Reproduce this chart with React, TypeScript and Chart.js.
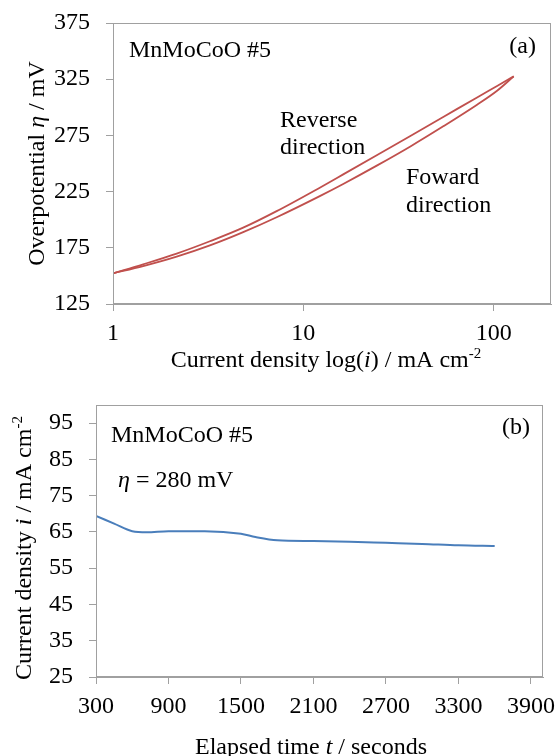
import React, { useEffect, useRef } from "react";
import { Chart, registerables } from "chart.js";

Chart.register(...registerables);

// ---- Panel (a): Tafel plot, forward and reverse sweep ----
const currentForward = [1, 1.44, 2.16, 3.23, 4.83, 7.24, 12.2, 16.2, 24.3, 36.5, 54.6, 81.8, 104.2, 127.4];
const etaForward = [152.3, 158.7, 167.1, 177.1, 188.9, 202.2, 221.0, 231.8, 248.1, 265.2, 283.3, 302.3, 314.7, 327.5];
const currentReverse = [127.4, 104.2, 81.8, 54.6, 36.5, 24.3, 16.2, 12.2, 7.24, 4.83, 3.23, 2.16, 1.44, 1];
const etaReverse = [327.5, 319.0, 308.8, 291.6, 274.5, 257.3, 240.3, 228.5, 207.6, 192.9, 180.8, 169.8, 160.3, 152.3];
const currentTicks = [1, 10, 100];
const etaTicks = [125, 175, 225, 275, 325, 375];

// ---- Panel (b): chronoamperometry at 280 mV ----
const elapsedTime = [300, 450, 600, 720, 900, 1200, 1500, 1620, 1800, 2100, 2400, 2700, 3000, 3300, 3600];
const currentDensity = [69.4, 67.3, 65.2, 64.9, 65.2, 65.2, 64.5, 63.6, 62.7, 62.5, 62.3, 62.0, 61.7, 61.3, 61.1];
const timeTicks = [300, 900, 1500, 2100, 2700, 3300, 3900];
const densityTicks = [25, 35, 45, 55, 65, 75, 85, 95];

const FAMILY = '"Liberation Serif", "Times New Roman", serif';
const SIZE = 24;
const GRAY = "#a0a0a0";
const RED = "#C0504D";
const BLUE = "#4A7EBB";

type Seg = { t: string; it?: boolean; sup?: boolean };

function drawRich(
  ctx: CanvasRenderingContext2D,
  segs: Seg[],
  x: number,
  y: number,
  align: "left" | "center" | "right",
  rot = 0
) {
  ctx.save();
  ctx.translate(x, y);
  if (rot) ctx.rotate(rot);
  const fontFor = (s: Seg) => `${s.it ? "italic " : ""}${s.sup ? 15 : SIZE}px ${FAMILY}`;
  let w = 0;
  for (const s of segs) {
    ctx.font = fontFor(s);
    w += ctx.measureText(s.t).width;
  }
  let cx = align === "left" ? 0 : align === "center" ? -w / 2 : -w;
  ctx.textBaseline = "alphabetic";
  ctx.textAlign = "left";
  ctx.fillStyle = "#000";
  for (const s of segs) {
    ctx.font = fontFor(s);
    ctx.fillText(s.t, cx, s.sup ? -9 : 0);
    cx += ctx.measureText(s.t).width;
  }
  ctx.restore();
}

type TextItem = { segs: Seg[]; x: number; y: number; align: "left" | "center" | "right"; rot?: number };

function makePlugins(texts: TextItem[]) {
  return [
    {
      id: "frame",
      afterDraw(chart: any) {
        const { ctx, chartArea } = chart;
        ctx.save();
        ctx.strokeStyle = GRAY;
        ctx.lineWidth = 1;
        const l = Math.round(chartArea.left) + 0.5;
        const t = Math.round(chartArea.top) + 0.5;
        const r = Math.round(chartArea.right) - 0.5;
        const b = Math.round(chartArea.bottom) - 0.5;
        ctx.strokeRect(l, t, r - l, b - t);
        ctx.restore();
      },
    },
    {
      id: "texts",
      afterDraw(chart: any) {
        const ctx = chart.ctx as CanvasRenderingContext2D;
        for (const it of texts) drawRich(ctx, it.segs, it.x, it.y, it.align, it.rot || 0);
      },
    },
  ];
}

function axisCommon(ticksArr: number[], padding: number, size: { w?: number; h?: number }) {
  return {
    afterBuildTicks: (s: any) => {
      s.ticks = ticksArr.map((v) => ({ value: v }));
    },
    afterFit: (s: any) => {
      if (size.w !== undefined) s.width = size.w;
      if (size.h !== undefined) s.height = size.h;
      s.paddingTop = 0;
      s.paddingBottom = 0;
      s.paddingLeft = 0;
      s.paddingRight = 0;
    },
    ticks: {
      font: { family: FAMILY, size: SIZE },
      color: "#000",
      padding,
      autoSkip: false,
      maxRotation: 0,
      callback: (v: any) => String(v),
    },
    grid: { display: true, drawOnChartArea: false, drawTicks: true, tickLength: 7, color: GRAY },
    border: { display: true, color: GRAY, width: 1 },
  };
}

const lineStyle = (color: string, width: number) => ({
  showLine: true,
  borderColor: color,
  backgroundColor: color,
  borderWidth: width,
  pointRadius: 0,
  cubicInterpolationMode: "monotone" as const,
});

function PanelA() {
  const ref = useRef<HTMLCanvasElement>(null);
  useEffect(() => {
    const texts: TextItem[] = [
      { segs: [{ t: "MnMoCoO #5" }], x: 129, y: 57, align: "left" },
      { segs: [{ t: "(a)" }], x: 536, y: 53, align: "right" },
      { segs: [{ t: "Reverse" }], x: 280, y: 127, align: "left" },
      { segs: [{ t: "direction" }], x: 280, y: 154, align: "left" },
      { segs: [{ t: "Foward" }], x: 406, y: 184, align: "left" },
      { segs: [{ t: "direction" }], x: 406, y: 212, align: "left" },
      {
        segs: [{ t: "Current density log(" }, { t: "i", it: true }, { t: ") / mA cm" }, { t: "-2", sup: true }],
        x: 326,
        y: 367,
        align: "center",
      },
      {
        segs: [{ t: "Overpotential " }, { t: "η", it: true }, { t: " / mV" }],
        x: 44,
        y: 163.5,
        align: "center",
        rot: -Math.PI / 2,
      },
    ];
    const chart = new Chart(ref.current!, {
      type: "scatter",
      data: {
        datasets: [
          { data: currentForward.map((x, i) => ({ x, y: etaForward[i] })), ...lineStyle(RED, 1.8) },
          { data: currentReverse.map((x, i) => ({ x, y: etaReverse[i] })), ...lineStyle(RED, 1.8) },
        ],
      },
      options: {
        animation: false,
        responsive: false,
        maintainAspectRatio: false,
        devicePixelRatio: 1,
        layout: { padding: { left: 0, top: 23, right: 7, bottom: 0 } },
        plugins: { legend: { display: false }, tooltip: { enabled: false } },
        scales: {
          x: { type: "logarithmic", min: 1, max: 200, ...axisCommon(currentTicks, 8, { h: 76 }) },
          y: { type: "linear", min: 125, max: 375, ...axisCommon(etaTicks, 16, { w: 113 }) },
        },
      } as any,
      plugins: makePlugins(texts) as any,
    });
    return () => chart.destroy();
  }, []);
  return <canvas ref={ref} width={558} height={380} style={{ display: "block", width: 558, height: 380 }} />;
}

function PanelB() {
  const ref = useRef<HTMLCanvasElement>(null);
  useEffect(() => {
    const texts: TextItem[] = [
      { segs: [{ t: "MnMoCoO #5" }], x: 111, y: 62, align: "left" },
      { segs: [{ t: "(b)" }], x: 530, y: 54, align: "right" },
      { segs: [{ t: "η", it: true }, { t: " = 280 mV" }], x: 118, y: 107, align: "left" },
      {
        segs: [{ t: "Elapsed time " }, { t: "t", it: true }, { t: " / seconds" }],
        x: 311,
        y: 374,
        align: "center",
      },
      {
        segs: [{ t: "Current density " }, { t: "i", it: true }, { t: " / mA cm" }, { t: "-2", sup: true }],
        x: 31,
        y: 168,
        align: "center",
        rot: -Math.PI / 2,
      },
    ];
    const chart = new Chart(ref.current!, {
      type: "scatter",
      data: {
        datasets: [{ data: elapsedTime.map((x, i) => ({ x, y: currentDensity[i] })), ...lineStyle(BLUE, 2) }],
      },
      options: {
        animation: false,
        responsive: false,
        maintainAspectRatio: false,
        devicePixelRatio: 1,
        layout: { padding: { left: 0, top: 25, right: 15, bottom: 0 } },
        plugins: { legend: { display: false }, tooltip: { enabled: false } },
        scales: {
          x: { type: "linear", min: 300, max: 4000, ...axisCommon(timeTicks, 8, { h: 79 }) },
          y: { type: "linear", min: 25, max: 100, ...axisCommon(densityTicks, 16, { w: 96 }) },
        },
      } as any,
      plugins: makePlugins(texts) as any,
    });
    return () => chart.destroy();
  }, []);
  return <canvas ref={ref} width={558} height={376} style={{ display: "block", width: 558, height: 376 }} />;
}

export default function App() {
  return (
    <div style={{ position: "absolute", left: 0, top: 0, width: 558, height: 756, background: "#fff" }}>
      <PanelA />
      <PanelB />
    </div>
  );
}
